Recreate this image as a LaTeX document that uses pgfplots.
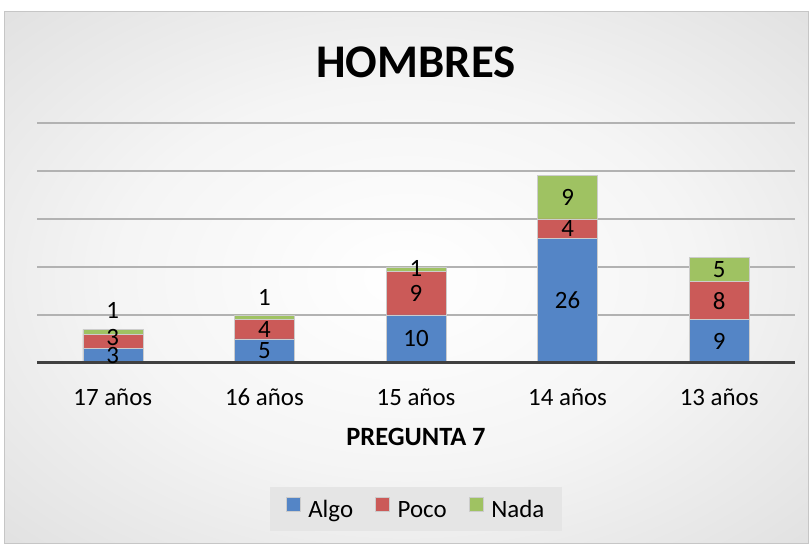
\documentclass[border=0pt]{standalone}
\usepackage{pgfplots}
\pgfplotsset{compat=1.18}
\usepackage{fontspec}
\setmainfont{Carlito}
\definecolor{algo}{HTML}{5485C6}
\definecolor{poco}{HTML}{CB5A58}
\definecolor{nada}{HTML}{9FC262}
\newcommand\lab{\fontsize{25}{28}\selectfont}
\pgfdeclareradialshading{chartbg}{\pgfpoint{0bp}{0bp}}{color(0bp)=(white); color(18bp)=(white!96!black); color(50bp)=(white!82!black)}

\begin{document}
\begin{tikzpicture}[x=1bp,y=1bp]
% page and chart area
\fill[white] (-37,-182) rectangle (773,363);
\shade[shading=chartbg] (-33,-180) rectangle (771,351);
\draw[gray!45, line width=1] (-33,-180) rectangle (771,351);

\begin{axis}[
    at={(0,0)}, anchor=south west,
    scale only axis,
    width=758bp, height=240bp,
    ybar stacked,
    bar width=60bp,
    xmin=-0.5, xmax=4.5,
    ymin=0, ymax=50,
    xtick={0,1,2,3,4},
    xticklabels={17 años, 16 años, 15 años, 14 años, 13 años},
    xticklabel style={font=\lab, anchor=base, yshift=-42bp},
    ytick={0,10,20,30,40,50},
    yticklabels={},
    ymajorgrids,
    grid style={black!30, line width=1.3bp},
    axis line style={draw=none},
    major tick length=0pt,
    every axis plot/.append style={draw=white!80!black, line width=0.6bp},
    legend style={at={(0.5,-0.608)}, anchor=center, legend columns=3,
        fill=black!10, draw=none, font=\lab,
        inner xsep=16bp, inner ysep=10bp,
        /tikz/every odd column/.append style={column sep=6bp},
        /tikz/every even column/.append style={column sep=20bp}},
    legend image code/.code={\fill[#1] (0bp,-1bp) rectangle (14bp,13bp);},
]
\addplot[fill=algo] coordinates {(0,3) (1,5) (2,10) (3,26) (4,9)};
\addplot[fill=poco] coordinates {(0,3) (1,4) (2,9) (3,4) (4,8)};
\addplot[fill=nada] coordinates {(0,1) (1,1) (2,1) (3,9) (4,5)};
\legend{Algo, Poco, Nada}

\coordinate (b0) at (axis cs:-0.5,0);
\coordinate (b1) at (axis cs:4.5,0);
% data label positions
\coordinate (l1) at (axis cs:0,1.6);
\coordinate (l2) at (axis cs:0,5.3);
\coordinate (l3) at (axis cs:0,11);
\coordinate (l4) at (axis cs:1,2.5);
\coordinate (l5) at (axis cs:1,7);
\coordinate (l6) at (axis cs:1,13.7);
\coordinate (l7) at (axis cs:2,5);
\coordinate (l8) at (axis cs:2,14.5);
\coordinate (l9) at (axis cs:2,19.6);
\coordinate (l10) at (axis cs:3,13);
\coordinate (l11) at (axis cs:3,28);
\coordinate (l12) at (axis cs:3,34.5);
\coordinate (l13) at (axis cs:4,4.5);
\coordinate (l14) at (axis cs:4,13);
\coordinate (l15) at (axis cs:4,19.5);
\end{axis}

\draw[black!75, line width=3bp] (b0) -- (b1);
\foreach \p/\t in {l1/3, l2/3, l3/1, l4/5, l5/4, l6/1, l7/10, l8/9, l9/1,
                   l10/26, l11/4, l12/9, l13/9, l14/8, l15/5}
  \node[font=\lab] at (\p) {\t};

\node[font=\fontsize{47}{50}\selectfont\bfseries] at (379,301) {HOMBRES};
\node[font=\fontsize{26.5}{30}\selectfont\bfseries] at (379,-74) {PREGUNTA 7};
\end{tikzpicture}
\end{document}
